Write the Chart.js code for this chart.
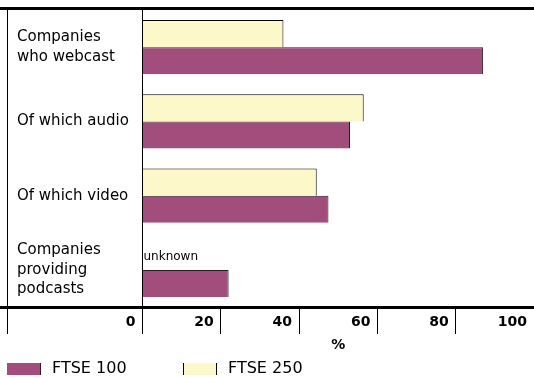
<!DOCTYPE html>
<html>
<head>
<meta charset="utf-8">
<script src="https://cdn.jsdelivr.net/npm/chart.js@4/dist/chart.umd.min.js"></script>
<style>
  html, body { margin: 0; padding: 0; background: #fff; }
  #wrap { width: 534px; height: 378px; position: relative; }
</style>
</head>
<body>
<div id="wrap"><canvas id="c" width="534" height="378"></canvas></div>
<script>
const categories = [
  ['Companies', 'who webcast'],
  'Of which audio',
  'Of which video',
  ['Companies', 'providing', 'podcasts']
];
const ftse100 = [87, 53, 47.5, 22];
const ftse250 = [36, 56.5, 44.5, null];
const xTicks = [0, 20, 40, 60, 80, 100];
const seriesNames = ['FTSE 100', 'FTSE 250'];
const missingLabel = 'unknown';
const axisTitle = '%';

const PURPLE = '#A24E7C';
const YELLOW = '#FCF8C9';
const FONT = "'DejaVu Sans', Verdana, sans-serif";

const framePlugin = {
  id: 'frame',
  afterDraw(chart) {
    const ctx = chart.ctx;
    const ca = chart.chartArea;
    const xs = chart.scales.x;
    ctx.save();
    ctx.fillStyle = '#000';
    // top and bottom thick rules
    ctx.fillRect(0, ca.top - 3, chart.width, 3);
    ctx.fillRect(0, ca.bottom - 1, chart.width, 3);
    // left frame line
    ctx.fillRect(7, ca.top - 1, 1, xs.bottom - 26 - ca.top + 1);
    // x tick labels, right aligned before each tick line
    ctx.font = 'bold 14px ' + FONT;
    ctx.textAlign = 'right';
    ctx.textBaseline = 'middle';
    xTicks.forEach(v => {
      const px = xs.getPixelForValue(v);
      ctx.fillText(String(v), px - 7, ca.bottom + 15);
    });
    // "unknown" label for missing FTSE 250 value
    const meta = chart.getDatasetMeta(0);
    ftse250.forEach((v, i) => {
      if (v === null) {
        const ys = chart.scales.y;
        const el = meta.data[i];
        let y = el && isFinite(el.y) ? el.y : ys.getPixelForValue(i) - 13;
        ctx.font = '12px ' + FONT;
        ctx.textAlign = 'left';
        ctx.fillText(missingLabel, xs.getPixelForValue(0) + 1, y + 1);
      }
    });
    // legend
    const ly = 369;
    const items = [
      { text: seriesNames[0], fill: PURPLE, x: 7 },
      { text: seriesNames[1], fill: YELLOW, x: 183 }
    ];
    ctx.font = '16px ' + FONT;
    ctx.textAlign = 'left';
    items.forEach((it, k) => {
      ctx.fillStyle = it.fill;
      ctx.fillRect(it.x, ly - 6, 34, 12);
      ctx.fillStyle = k === 0 ? '#3a1a2a' : '#000';
      ctx.fillRect(it.x + 33, ly - 6, 1, 12);
      if (k === 1) ctx.fillRect(it.x, ly - 6, 1, 12);
      ctx.fillStyle = '#000';
      ctx.fillText(it.text, it.x + 45, ly);
    });
    ctx.restore();
  }
};

new Chart(document.getElementById('c'), {
  type: 'bar',
  data: {
    labels: categories,
    datasets: [
      {
        label: seriesNames[1],
        data: ftse250,
        backgroundColor: YELLOW,
        borderColor: '#000',
        borderWidth: { top: 1, right: 1, bottom: 0, left: 0 },
        borderSkipped: false
      },
      {
        label: seriesNames[0],
        data: ftse100,
        backgroundColor: PURPLE,
        borderColor: '#2a1a22',
        borderWidth: { top: 1, right: 1, bottom: 0, left: 0 },
        borderSkipped: false
      }
    ]
  },
  options: {
    indexAxis: 'y',
    responsive: false,
    animation: false,
    layout: { padding: { left: 17, top: 10, right: 0, bottom: 18 } },
    categoryPercentage: 0.73,
    barPercentage: 1.0,
    plugins: {
      legend: { display: false },
      tooltip: { enabled: false },
      title: { display: false }
    },
    scales: {
      x: {
        type: 'linear',
        min: 0,
        max: 100,
        position: 'bottom',
        afterFit(scale) { scale.height = 53; scale.paddingLeft = 0; scale.paddingRight = 0; },
        ticks: { display: false, stepSize: 20 },
        grid: {
          drawOnChartArea: false,
          drawTicks: true,
          tickLength: 27,
          color: ctx => (ctx.tick && ctx.tick.value === 100) ? 'rgba(0,0,0,0)' : '#000',
          lineWidth: 1
        },
        border: { display: false },
        title: {
          display: true,
          text: axisTitle,
          color: '#000',
          font: { family: FONT, size: 14, weight: 'bold' },
          padding: { top: 0, bottom: 6 }
        }
      },
      y: {
        position: 'left',
        afterFit(scale) { scale.width = 125.5; scale.paddingTop = 0; scale.paddingBottom = 0; },
        ticks: {
          crossAlign: 'far',
          color: '#000',
          font: { family: FONT, size: 15, lineHeight: 1.3 }
        },
        grid: { display: false, drawTicks: false },
        border: { display: true, color: '#000', width: 1 }
      }
    }
  },
  plugins: [framePlugin]
});
</script>
</body>
</html>
